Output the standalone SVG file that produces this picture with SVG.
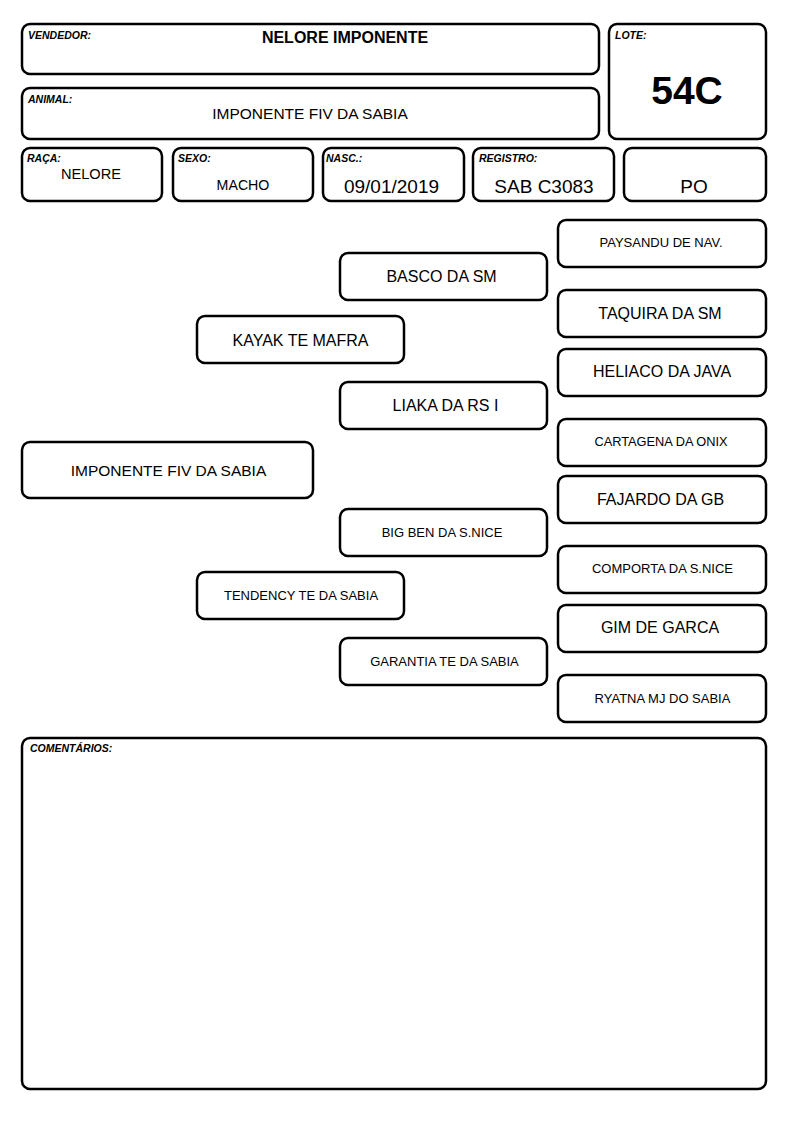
<svg xmlns="http://www.w3.org/2000/svg" width="794" height="1123" viewBox="0 0 794 1123">
<style>
.b{fill:#fff;stroke:#000;stroke-width:2.5}
.lb{font-family:"Liberation Sans",Arial,sans-serif;font-size:10.5px;font-weight:bold;font-style:italic;fill:#000}
.t{font-family:"Liberation Sans",Arial,sans-serif;fill:#000;text-anchor:middle}
.s13{font-size:13px}
.s16{font-size:16px}
</style>
<rect width="794" height="1123" fill="#fff"/>
<g id="vendedor">
<rect class="b" x="22" y="24" width="577" height="50" rx="8"/>
<text class="lb" x="28" y="39">VENDEDOR:</text>
<text class="t" x="345" y="43" font-size="16" font-weight="bold">NELORE IMPONENTE</text>
</g>
<g id="animal">
<rect class="b" x="22" y="88" width="577" height="51" rx="8"/>
<text class="lb" x="28" y="103">ANIMAL:</text>
<text class="t" x="310" y="119" font-size="15.5">IMPONENTE FIV DA SABIA</text>
</g>
<g id="lote">
<rect class="b" x="609" y="24" width="157" height="115" rx="8"/>
<text class="lb" x="615" y="39">LOTE:</text>
<text class="t" x="687" y="104" font-size="39" font-weight="bold">54C</text>
</g>
<g id="raca">
<rect class="b" x="22" y="148" width="140" height="53" rx="8"/>
<text class="lb" x="27" y="162">RAÇA:</text>
<text class="t" x="91" y="178.5" font-size="14.6">NELORE</text>
</g>
<g id="sexo">
<rect class="b" x="173" y="148" width="140" height="53" rx="8"/>
<text class="lb" x="178" y="162">SEXO:</text>
<text class="t" x="243" y="190" font-size="14.2">MACHO</text>
</g>
<g id="nasc">
<rect class="b" x="323" y="148" width="141" height="53" rx="8"/>
<text class="lb" x="326" y="162">NASC.:</text>
<text class="t" x="391.5" y="193" font-size="19">09/01/2019</text>
</g>
<g id="registro">
<rect class="b" x="473" y="148" width="141" height="53" rx="8"/>
<text class="lb" x="479" y="162">REGISTRO:</text>
<text class="t" x="544" y="193" font-size="19">SAB C3083</text>
</g>
<g id="po">
<rect class="b" x="624" y="148" width="142" height="53" rx="8"/>
<text class="t" x="694" y="193" font-size="19">PO</text>
</g>
<g id="animal-node">
<rect class="b" x="22" y="442" width="291" height="56" rx="8"/>
<text class="t" x="168.5" y="475.5" font-size="15.5">IMPONENTE FIV DA SABIA</text>
</g>
<g id="pai">
<rect class="b" x="197" y="316" width="207" height="47" rx="8"/>
<text class="t s16" x="300.5" y="345.5">KAYAK TE MAFRA</text>
</g>
<g id="mae">
<rect class="b" x="197" y="572" width="207" height="47" rx="8"/>
<text class="t s13" x="301" y="600">TENDENCY TE DA SABIA</text>
</g>
<g id="avo-pp">
<rect class="b" x="340" y="253" width="207" height="47" rx="8"/>
<text class="t s16" x="441.5" y="282">BASCO DA SM</text>
</g>
<g id="avo-pm">
<rect class="b" x="340" y="382" width="207" height="47" rx="8"/>
<text class="t s16" x="445.5" y="411">LIAKA DA RS I</text>
</g>
<g id="avo-mp">
<rect class="b" x="340" y="509" width="207" height="47" rx="8"/>
<text class="t s13" x="442" y="537">BIG BEN DA S.NICE</text>
</g>
<g id="avo-mm">
<rect class="b" x="340" y="638" width="207" height="47" rx="8"/>
<text class="t s13" x="444.5" y="666">GARANTIA TE DA SABIA</text>
</g>
<g id="b1">
<rect class="b" x="558" y="220" width="208" height="47" rx="8"/>
<text class="t s13" x="661" y="247">PAYSANDU DE NAV.</text>
</g>
<g id="b2">
<rect class="b" x="558" y="290" width="208" height="47" rx="8"/>
<text class="t s16" x="660" y="319">TAQUIRA DA SM</text>
</g>
<g id="b3">
<rect class="b" x="558" y="349" width="208" height="47" rx="8"/>
<text class="t s16" x="662" y="377">HELIACO DA JAVA</text>
</g>
<g id="b4">
<rect class="b" x="558" y="419" width="208" height="47" rx="8"/>
<text class="t" x="661" y="446" font-size="12.8">CARTAGENA DA ONIX</text>
</g>
<g id="b5">
<rect class="b" x="558" y="476" width="208" height="47" rx="8"/>
<text class="t s16" x="660.5" y="505">FAJARDO DA GB</text>
</g>
<g id="b6">
<rect class="b" x="558" y="546" width="208" height="47" rx="8"/>
<text class="t s13" x="662.5" y="573">COMPORTA DA S.NICE</text>
</g>
<g id="b7">
<rect class="b" x="558" y="605" width="208" height="47" rx="8"/>
<text class="t s16" x="660" y="633">GIM DE GARCA</text>
</g>
<g id="b8">
<rect class="b" x="558" y="675" width="208" height="47" rx="8"/>
<text class="t s13" x="662.5" y="703">RYATNA MJ DO SABIA</text>
</g>
<g id="comentarios">
<rect class="b" x="22" y="738" width="744" height="351" rx="8"/>
<text class="lb" x="30" y="752">COMENTÁRIOS:</text>
</g>
<g id="connectors"></g>
</svg>
